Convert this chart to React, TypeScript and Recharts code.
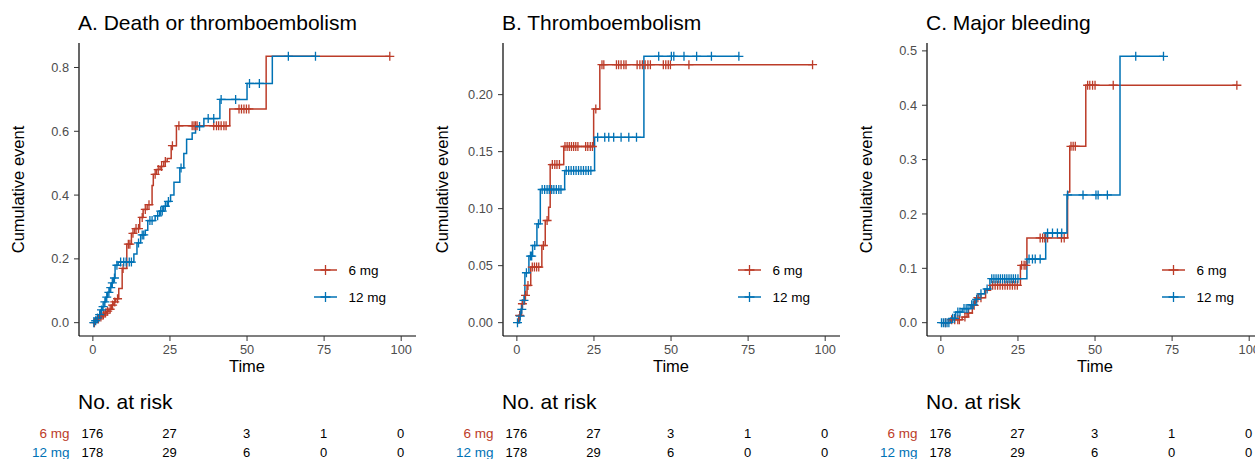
import React from 'react';
import { ComposedChart, Line, Scatter, XAxis, YAxis } from 'recharts';

const RED = '#BC3C29';
const BLUE = '#0072B5';
const FONT = '"Liberation Sans", Arial, Helvetica, sans-serif';

const timeTicks = [0, 25, 50, 75, 100];
const groupNames = ['6 mg', '12 mg'];
const risk6mg = [176, 27, 3, 1, 0];
const risk12mg = [178, 29, 6, 0, 0];
const panelTitles = ['A. Death or thromboembolism', 'B. Thromboembolism', 'C. Major bleeding'];

// A. Death or thromboembolism  [time, cumulative event]
const deathSteps6 = [
  [0, 0], [0.8, 0.006], [1.5, 0.012], [2.3, 0.018], [3, 0.024], [3.8, 0.03], [4.5, 0.036], [5.2, 0.042],
  [6, 0.055], [6.8, 0.065], [7.4, 0.075], [8.4, 0.107], [9.5, 0.17], [11, 0.246], [12.5, 0.28],
  [13.5, 0.295], [15.2, 0.33], [16.3, 0.355], [17.6, 0.37], [19.2, 0.43], [19.6, 0.465], [20.6, 0.48],
  [21.8, 0.49], [23, 0.505], [24.1, 0.515], [25.4, 0.555], [27.1, 0.617], [44.4, 0.67], [56.2, 0.835],
];
const deathCensor6 = [
  0.5, 1.8, 2.6, 3.4, 4.1, 4.8, 5.6, 6.4, 7.1, 8, 9.8, 11.5, 12, 13, 14, 14.8, 16, 17, 18.2, 20.2, 21.2,
  22.3, 23.5, 25.8, 27.9, 32.2, 32.8, 33.3, 33.8, 39.2, 40.1, 40.8, 41.6, 42.5, 43.2, 47.4, 48.2, 49,
  49.8, 50.6, 96.3,
];
const deathSteps12 = [
  [0, 0], [0.5, 0.006], [1.2, 0.015], [1.8, 0.025], [2.5, 0.04], [3, 0.05], [3.6, 0.065], [4.2, 0.08],
  [4.8, 0.095], [5.5, 0.11], [6.1, 0.125], [6.6, 0.14], [7.2, 0.18], [8.2, 0.19], [13.3, 0.215],
  [14.3, 0.25], [15.5, 0.275], [17, 0.29], [17.8, 0.32], [20.2, 0.335], [21.6, 0.35], [23, 0.365],
  [24.1, 0.38], [25.2, 0.4], [26.3, 0.44], [28.2, 0.485], [29.5, 0.53], [30.4, 0.575], [32.2, 0.595],
  [33.3, 0.615], [36, 0.64], [41.2, 0.7], [50, 0.75], [58.2, 0.835],
];
const deathCensor12 = [
  0.3, 0.9, 1.5, 2.2, 2.8, 3.3, 3.9, 4.5, 5.2, 5.8, 6.3, 7, 7.8, 9, 10, 10.8, 11.8, 12.5, 14.8, 16, 16.5,
  18.5, 19.2, 21, 22, 22.5, 23.5, 24.5, 28.6, 34.6, 37.4, 39.2, 41.6, 46.3, 50.8, 54, 63.4, 72.2,
];

// B. Thromboembolism
const thromboSteps6 = [
  [0, 0], [0.6, 0.0064], [1.5, 0.0166], [2.5, 0.024], [3.3, 0.0327], [4.5, 0.0488], [8.1, 0.0677],
  [9.2, 0.0896], [10.3, 0.1013], [10.8, 0.1387], [15.2, 0.1545], [24.9, 0.1874], [26.9, 0.2263],
];
const thromboCensor6 = [
  0.9, 1.8, 2.8, 3.6, 5, 5.7, 6.4, 7.1, 8.6, 9.8, 11.5, 12.3, 13, 13.8, 15.6, 16.3, 17, 17.7, 18.4,
  19.1, 19.8, 22.3, 23, 23.8, 24.5, 25.6, 27.6, 28.2, 32.3, 33, 33.8, 34.7, 35.4, 39, 39.9, 40.7,
  41.6, 42.5, 43.3, 47.5, 48.3, 49.1, 49.8, 55.8, 95.9,
];
const thromboSteps12 = [
  [0, 0], [0.9, 0.0058], [1.3, 0.0117], [1.8, 0.0196], [2.6, 0.0438], [3.9, 0.0584], [5.1, 0.0677],
  [6.5, 0.0867], [7.6, 0.1168], [15.5, 0.1334], [25.2, 0.1626], [41.2, 0.2336],
];
const thromboCensor12 = [
  0.2, 1.1, 1.6, 2.3, 3.1, 4.4, 4.8, 5.8, 7, 8.2, 9, 9.8, 10.5, 11.3, 12, 12.8, 13.6, 14.3, 16, 16.8,
  17.6, 18.4, 19.2, 20, 20.8, 21.6, 22.4, 23.2, 24, 26.2, 28.5, 29.8, 31.4, 33.8, 36.3, 38.8, 46,
  50.1, 50.9, 54.2, 58.3, 63.1, 72,
];

// C. Major bleeding
const bleedSteps6 = [
  [0, 0], [2.6, 0.0055], [6.9, 0.0104], [8.5, 0.0178], [10.2, 0.032], [11.2, 0.046], [14.5, 0.0595],
  [16.1, 0.0687], [25.8, 0.1055], [27.9, 0.156], [41.1, 0.2405], [41.8, 0.3245], [47, 0.4368],
];
const bleedCensor6 = [
  1.5, 3.5, 4.5, 5.5, 6, 7.8, 9, 10.8, 12, 13, 16.8, 17.6, 18.4, 19.2, 20, 20.8, 21.6, 22.4, 23.2, 24,
  24.8, 26.2, 27, 27.6, 32.2, 33, 33.7, 34.6, 39.1, 40, 42.2, 42.9, 43.6, 47.6, 48.3, 49.2, 50, 55.9, 96,
];
const bleedSteps12 = [
  [0, 0], [3.2, 0.008], [4.8, 0.0196], [6.9, 0.026], [9.5, 0.033], [11, 0.043], [12.3, 0.053],
  [14.2, 0.062], [15.9, 0.081], [27.9, 0.117], [34, 0.165], [40.9, 0.235], [58.1, 0.49],
];
const bleedCensor12 = [
  0.2, 0.8, 1.4, 2, 2.6, 3.8, 4.4, 5.5, 6.2, 7.5, 8.2, 8.8, 10, 10.5, 11.6, 13, 15, 16.5, 17.2, 17.9,
  18.6, 19.3, 20, 20.7, 21.4, 22.1, 22.8, 23.5, 24.2, 25, 28.6, 29.7, 30.6, 32.2, 34.6, 36.2, 37.8,
  39.2, 41.1, 46.1, 50.3, 51, 54, 63.2, 72.2,
];

const X_DOMAIN = [-4.5, 104.8];
const PLOT_W = 337;
const panelLefts = [78.5, 502.5, 926.5];

function lineData(steps: number[][], censor: number[]) {
  const pts = steps.map(([t, v]) => ({ t, v }));
  const end = censor[censor.length - 1];
  const lastPt = pts[pts.length - 1];
  if (end > lastPt.t) pts.push({ t: end, v: lastPt.v });
  return pts;
}

function censorData(steps: number[][], censor: number[]) {
  return censor.map((t) => {
    let v = 0;
    for (const [st, sv] of steps) if (st <= t) v = sv;
    return { t, v };
  });
}

const cross = (color: string) => (p: any) => (
  <path
    d={`M${p.cx - 4.5},${p.cy}h9M${p.cx},${p.cy - 4.5}v9`}
    stroke={color}
    strokeWidth={1.3}
    fill="none"
  />
);

const panels = [
  {
    yDomain: [-0.0418, 0.8768], yTicks: [0, 0.2, 0.4, 0.6, 0.8], digits: 1,
    s6: [deathSteps6, deathCensor6], s12: [deathSteps12, deathCensor12],
  },
  {
    yDomain: [-0.0117, 0.2453], yTicks: [0, 0.05, 0.1, 0.15, 0.2], digits: 2,
    s6: [thromboSteps6, thromboCensor6], s12: [thromboSteps12, thromboCensor12],
  },
  {
    yDomain: [-0.0245, 0.5145], yTicks: [0, 0.1, 0.2, 0.3, 0.4, 0.5], digits: 1,
    s6: [bleedSteps6, bleedCensor6], s12: [bleedSteps12, bleedCensor12],
  },
];

const tickStyle = { fill: '#4D4D4D', fontSize: 12.8, fontFamily: FONT };

function Panel({ idx }: { idx: number }) {
  const p = panels[idx];
  const series = [
    { color: RED, steps: p.s6[0], censor: p.s6[1] },
    { color: BLUE, steps: p.s12[0], censor: p.s12[1] },
  ];
  return (
    <div style={{ position: 'absolute', left: panelLefts[idx] - 78, top: 0 }}>
      <ComposedChart width={420} height={380} margin={{ top: 43, right: 5, left: 20, bottom: 14 }}>
        <XAxis
          type="number"
          dataKey="t"
          domain={X_DOMAIN}
          ticks={timeTicks}
          allowDataOverflow
          height={30}
          tickSize={5}
          tickMargin={4}
          axisLine={{ stroke: '#000', strokeWidth: 1.2 }}
          tickLine={{ stroke: '#333' }}
          tick={tickStyle}
        />
        <YAxis
          type="number"
          dataKey="v"
          domain={p.yDomain}
          ticks={p.yTicks}
          allowDataOverflow
          width={58}
          tickSize={5}
          tickMargin={5}
          tickFormatter={(v: number) => v.toFixed(p.digits)}
          axisLine={{ stroke: '#000', strokeWidth: 1.2 }}
          tickLine={{ stroke: '#333' }}
          tick={tickStyle}
        />
        {series.map((s, i) => (
          <Line
            key={'l' + i}
            data={lineData(s.steps, s.censor)}
            dataKey="v"
            type="stepAfter"
            stroke={s.color}
            strokeWidth={1.5}
            dot={false}
            activeDot={false}
            isAnimationActive={false}
          />
        ))}
        {series.map((s, i) => (
          <Scatter
            key={'s' + i}
            data={censorData(s.steps, s.censor)}
            shape={cross(s.color)}
            isAnimationActive={false}
          />
        ))}
      </ComposedChart>
    </div>
  );
}

function Overlay() {
  return (
    <svg width={1255} height={459} style={{ position: 'absolute', left: 0, top: 0, pointerEvents: 'none' }}>
      {panelLefts.map((L, i) => {
        const tx = (t: number) => L + ((t - X_DOMAIN[0]) / (X_DOMAIN[1] - X_DOMAIN[0])) * PLOT_W;
        const mid = L + PLOT_W / 2;
        return (
          <g key={i} fontFamily={FONT}>
            <text x={L - 0.5} y={30} fontSize={21} fill="#000">{panelTitles[i]}</text>
            <text
              x={0}
              y={0}
              fontSize={16.5}
              fill="#000"
              textAnchor="middle"
              transform={`translate(${L - 55},189.5) rotate(-90)`}
            >
              Cumulative event
            </text>
            <text x={mid} y={372} fontSize={16.5} fill="#000" textAnchor="middle">Time</text>
            {groupNames.map((g, k) => {
              const y = 270 + k * 27;
              const c = k === 0 ? RED : BLUE;
              const kx = L + 247;
              return (
                <g key={g}>
                  <line x1={L + 235.5} x2={L + 258.5} y1={y} y2={y} stroke={c} strokeWidth={1.5} />
                  <path d={`M${kx - 5},${y}h10M${kx},${y - 5}v10`} stroke={c} strokeWidth={1.3} />
                  <text x={L + 270} y={y + 5} fontSize={13.5} fill="#000">{g}</text>
                </g>
              );
            })}
            <text x={L - 0.5} y={408.5} fontSize={21} fill="#000">No. at risk</text>
            {[risk6mg, risk12mg].map((row, k) => (
              <g key={'r' + k}>
                <text x={L - 9} y={438 + k * 18.5} fontSize={13.5} fill={k === 0 ? RED : BLUE} textAnchor="end">
                  {groupNames[k]}
                </text>
                {row.map((n, j) => (
                  <text key={j} x={tx(timeTicks[j])} y={438 + k * 18.5} fontSize={13} fill="#000" textAnchor="middle">
                    {n}
                  </text>
                ))}
              </g>
            ))}
          </g>
        );
      })}
    </svg>
  );
}

export default function App() {
  return (
    <div
      style={{
        position: 'absolute',
        left: 0,
        top: 0,
        width: 1255,
        height: 459,
        overflow: 'hidden',
        background: '#fff',
        fontFamily: FONT,
      }}
    >
      {[0, 1, 2].map((i) => (
        <Panel key={i} idx={i} />
      ))}
      <Overlay />
    </div>
  );
}
